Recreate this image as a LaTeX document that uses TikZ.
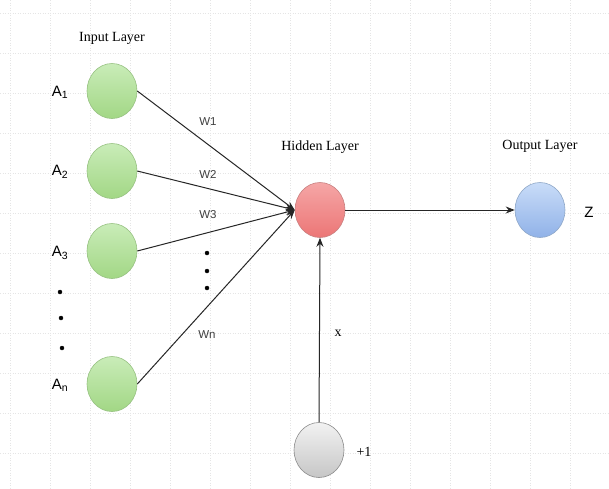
\documentclass[tikz,border=0pt]{standalone}
\usepackage{fontspec}
\setmainfont{Liberation Serif}
\newfontfamily\arialfont{Liberation Sans}
\usepackage{xcolor}
\usetikzlibrary{arrows.meta,shapes.geometric}

\definecolor{inTop}{HTML}{C9ECB8}
\definecolor{inBot}{HTML}{A2D785}
\definecolor{inLine}{HTML}{97C282}
\definecolor{hidTop}{HTML}{F5A6A6}
\definecolor{hidBot}{HTML}{EC7676}
\definecolor{hidLine}{HTML}{C98080}
\definecolor{outTop}{HTML}{C9DCF8}
\definecolor{outBot}{HTML}{90B2E8}
\definecolor{outLine}{HTML}{8FA8C8}
\definecolor{biasTop}{HTML}{F2F2F2}
\definecolor{biasBot}{HTML}{C6C6C6}
\definecolor{biasLine}{HTML}{8C8C8C}

\begin{document}
\begin{tikzpicture}[x=1pt, y=-1pt,
    neuron/.style={ellipse, minimum width=50pt, minimum height=55pt, inner sep=0pt, line width=0.6pt},
    inneuron/.style={neuron, draw=inLine, top color=inTop, bottom color=inBot},
    hidneuron/.style={neuron, draw=hidLine, top color=hidTop, bottom color=hidBot},
    outneuron/.style={neuron, draw=outLine, top color=outTop, bottom color=outBot},
    biasneuron/.style={neuron, draw=biasLine, top color=biasTop, bottom color=biasBot},
    wire/.style={draw=black!85, line width=1pt, -{Stealth[length=9pt,width=7pt]}},
    layername/.style={font=\fontsize{14}{16}\selectfont},
    sanslabel/.style={font=\arialfont\fontsize{15}{17}\selectfont},
    weight/.style={font=\arialfont\fontsize{11.5}{13}\selectfont, text=black!75},
    gridline/.style={black!10, dotted, line width=0.5pt}]
    \useasboundingbox (0,0) rectangle (609,488);
    \fill[white] (0,0) rectangle (609,488);

    % faint background grid
    \foreach \gx in {10,50,...,610} \draw[gridline] (\gx,0) -- (\gx,488);
    \foreach \gy in {13,53,...,493} \draw[gridline] (0,\gy) -- (609,\gy);

    % Layer titles
    \node[layername] (tin) at (112,38) {Input Layer};
    \node[layername] (thid) at (320,147) {Hidden Layer};
    \node[layername] (tout) at (540,146) {Output Layer};

    % Input neurons
    \node[inneuron] (a1) at (112,91) {};
    \node[inneuron] (a2) at (112,171) {};
    \node[inneuron] (a3) at (112,251) {};
    \node[inneuron] (an) at (112,384) {};
    \node[sanslabel] (la1) at (60,92) {A\textsubscript{1}};
    \node[sanslabel] (la2) at (60,172) {A\textsubscript{2}};
    \node[sanslabel] (la3) at (60,253) {A\textsubscript{3}};
    \node[sanslabel] (lan) at (60,385) {A\textsubscript{n}};
    \filldraw[black] (60,292) circle (2pt);
    \filldraw[black] (61,318) circle (2pt);
    \filldraw[black] (62,348) circle (2pt);

    % Hidden, output and bias neurons
    \node[hidneuron] (h) at (320,210) {};
    \node[outneuron] (z) at (540,210) {};
    \node[sanslabel] (lz) at (589,212) {Z};
    \node[biasneuron] (b) at (319,450) {};
    \node[layername] (lb) at (364,452) {+1};

    % Weighted connections
    \draw[wire] (a1.east) -- (h.west);
    \draw[wire] (a2.east) -- (h.west);
    \draw[wire] (a3.east) -- (h.west);
    \draw[wire] (an.east) -- (h.west);
    \node[weight] (w1) at (208,122) {W1};
    \node[weight] (w2) at (208,174) {W2};
    \node[weight] (w3) at (208,215) {W3};
    \node[weight] (wn) at (207,335) {Wn};
    \filldraw[black] (207,253) circle (2pt);
    \filldraw[black] (207,271) circle (2pt);
    \filldraw[black] (207,288) circle (2pt);

    % Output and bias connections
    \draw[wire] (h.east) -- (z.west);
    \draw[wire] (b.north) -- (h.south);
    \node[layername] (lx) at (338,333) {x};
\end{tikzpicture}
\end{document}
